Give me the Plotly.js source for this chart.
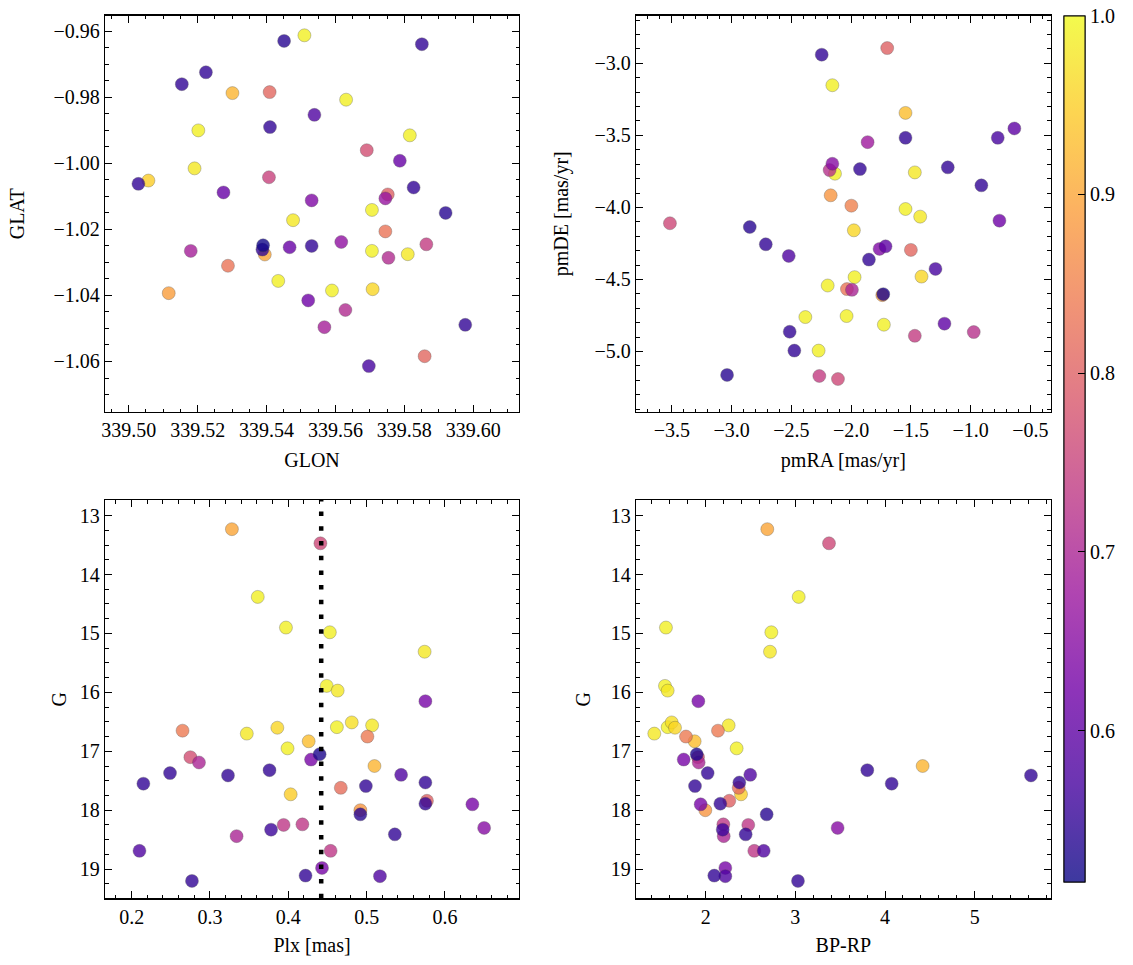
<!DOCTYPE html>
<html><head><meta charset="utf-8">
<script src="https://cdn.plot.ly/plotly-3.0.1.min.js"></script>
<style>html,body{margin:0;padding:0;background:#fff}</style>
</head><body><div id="chart" style="width:1133px;height:965px"></div>
<script>
// ---- Panel 1: sky positions ----
const glon = [339.5451,339.5510,339.5851,339.5224,339.5154,339.5301,339.5409,339.5631,339.5539,339.5202,
  339.5410,339.5816,339.5691,339.5787,339.5191,339.5057,339.5028,339.5407,339.5275,339.5531,
  339.5752,339.5745,339.5827,339.5706,339.5920,339.5477,339.5745,339.5180,339.5390,339.5388,
  339.5395,339.5467,339.5531,339.5617,339.5706,339.5754,339.5810,339.5864,339.5288,339.5116,
  339.5434,339.5590,339.5708,339.5521,339.5629,339.5568,339.5977,339.5859,339.5697];
const glat = [-0.9629,-0.9612,-0.9639,-0.9724,-0.9760,-0.9787,-0.9784,-0.9807,-0.9853,-0.9900,
  -0.9890,-0.9915,-0.9960,-0.9992,-1.0015,-1.0052,-1.0062,-1.0042,-1.0088,-1.0112,
  -1.0094,-1.0106,-1.0073,-1.0141,-1.0150,-1.0172,-1.0206,-1.0265,-1.0248,-1.0261,
  -1.0276,-1.0254,-1.0250,-1.0238,-1.0265,-1.0286,-1.0275,-1.0245,-1.0310,-1.0393,
  -1.0356,-1.0385,-1.0381,-1.0415,-1.0444,-1.0496,-1.0489,-1.0584,-1.0614];
const probPos = [0.54,0.99,0.55,0.55,0.55,0.92,0.81,0.99,0.58,0.99,
  0.55,0.99,0.77,0.61,0.98,0.95,0.55,0.75,0.61,0.64,
  0.80,0.67,0.55,0.99,0.54,0.98,0.83,0.69,0.52,0.55,
  0.90,0.61,0.55,0.66,0.99,0.71,0.98,0.74,0.83,0.89,
  0.99,0.99,0.96,0.62,0.71,0.69,0.55,0.81,0.57];

// ---- Panel 2: proper motions ----
const pmra = [-2.246,-1.698,-2.157,-1.545,-1.545,-0.773,-0.634,-1.862,-2.157,-2.180,
  -2.135,-1.926,-1.467,-1.191,-0.910,-2.171,-1.998,-1.545,-1.422,-0.759,
  -3.516,-2.848,-2.714,-2.522,-1.977,-1.762,-1.712,-1.500,-1.851,-1.294,
  -2.196,-1.971,-1.411,-2.035,-1.993,-1.739,-1.731,-2.383,-2.038,-1.726,
  -1.219,-0.974,-1.467,-2.514,-2.475,-2.272,-3.038,-2.266,-2.110];
const pmde = [-2.940,-2.894,-3.152,-3.344,-3.517,-3.517,-3.452,-3.547,-3.697,-3.741,
  -3.766,-3.734,-3.757,-3.722,-3.847,-3.916,-3.988,-4.011,-4.064,-4.092,
  -4.110,-4.136,-4.256,-4.337,-4.159,-4.288,-4.270,-4.295,-4.362,-4.427,
  -4.542,-4.484,-4.480,-4.567,-4.572,-4.609,-4.602,-4.761,-4.754,-4.814,
  -4.807,-4.865,-4.891,-4.863,-4.994,-4.994,-5.163,-5.170,-5.191];
const probPm = [0.55,0.80,0.99,0.93,0.55,0.57,0.60,0.68,0.65,0.72,
  0.99,0.55,0.98,0.55,0.55,0.88,0.85,0.99,0.98,0.62,
  0.76,0.54,0.55,0.58,0.96,0.64,0.60,0.81,0.55,0.57,
  0.99,0.99,0.96,0.83,0.70,0.89,0.53,0.99,0.99,0.99,
  0.60,0.72,0.74,0.55,0.55,0.99,0.54,0.74,0.76];

// ---- Panels 3 & 4: photometry ----
const gmag = [13.23,13.47,14.38,14.90,14.98,15.31,15.89,15.97,16.15,16.65,
  16.70,16.60,16.59,16.51,16.56,16.75,16.83,16.95,17.05,17.14,
  17.10,17.19,17.25,17.37,17.41,17.32,17.40,17.55,17.53,17.62,
  17.59,17.73,17.84,17.89,17.90,18.00,18.07,18.25,18.24,18.33,
  18.44,18.41,18.30,18.69,18.69,18.98,19.11,19.12,19.20];
const plx = [0.328,0.441,0.361,0.397,0.453,0.574,0.449,0.463,0.575,0.265,
  0.347,0.386,0.462,0.481,0.507,0.501,0.426,0.399,0.440,0.429,
  0.275,0.286,0.510,0.249,0.323,0.376,0.544,0.215,0.575,0.467,
  0.499,0.403,0.577,0.575,0.635,0.492,0.492,0.394,0.418,0.378,
  0.334,0.536,0.650,0.210,0.454,0.443,0.422,0.517,0.277];
const bprp = [2.687,3.375,3.037,1.557,2.732,2.717,1.546,1.576,1.918,2.137,
  1.427,1.658,1.576,1.621,2.256,1.780,1.877,2.345,1.900,1.755,
  1.914,1.922,4.419,2.022,5.627,3.802,2.497,4.074,2.375,2.368,
  1.881,2.394,2.263,2.163,1.944,1.996,2.680,2.475,2.197,2.190,
  2.201,2.446,3.471,2.647,2.542,2.219,2.096,2.219,3.029];
const probPhot = [0.90,0.76,0.99,0.99,0.99,0.98,0.99,0.98,0.63,0.84,
  0.98,0.96,0.99,0.97,0.98,0.84,0.93,0.99,0.53,0.63,
  0.77,0.70,0.92,0.55,0.55,0.55,0.58,0.55,0.55,0.82,
  0.55,0.95,0.80,0.55,0.63,0.88,0.54,0.73,0.73,0.56,
  0.70,0.55,0.65,0.58,0.73,0.63,0.55,0.58,0.55];

const plxMean = 0.442;
const probMin = 0.5155, probMax = 1.0;
const cbMajor = [0.6, 0.7, 0.8, 0.9, 1.0];
const cbMinor = [0.52,0.54,0.56,0.58,0.60,0.62,0.64,0.66,0.68,0.70,0.72,0.74,0.76,0.78,0.80,
  0.82,0.84,0.86,0.88,0.90,0.92,0.94,0.96,0.98,1.00];

// plasma colormap
const plasma = [[0,'#0d0887'],[0.1111,'#46039f'],[0.2222,'#7201a8'],[0.3333,'#9c179e'],
  [0.4444,'#bd3786'],[0.5556,'#d8576b'],[0.6667,'#ed7953'],[0.7778,'#fb9f3a'],
  [0.8889,'#fdca26'],[1,'#f0f921']];
const alpha = 0.8;
function fade(hex){
  const r=parseInt(hex.slice(1,3),16), g=parseInt(hex.slice(3,5),16), b=parseInt(hex.slice(5,7),16);
  const f=v=>Math.round(alpha*v+(1-alpha)*255);
  return 'rgb('+f(r)+','+f(g)+','+f(b)+')';
}
const plasmaFaded = plasma.map(s=>[s[0], fade(s[1])]);

const FONT = 'Liberation Serif, serif';
const FS = 20;

function sorted(xs, ys, ps){
  const idx = ps.map((p,i)=>i).sort((a,b)=>ps[b]-ps[a]);
  return {x: idx.map(i=>xs[i]), y: idx.map(i=>ys[i]), p: idx.map(i=>ps[i])};
}
function scat(xs, ys, ps, xa, ya){
  const s = sorted(xs, ys, ps);
  return {type:'scatter', mode:'markers', x:s.x, y:s.y, xaxis:xa, yaxis:ya,
    hoverinfo:'skip', showlegend:false,
    marker:{size:13, color:s.p, cmin:probMin, cmax:probMax, colorscale:plasma,
      opacity:alpha, showscale:false, line:{width:0.5, color:'rgba(60,60,60,0.7)'}}};
}
function cbTrace(vals, len, labels){
  return {type:'scatter', mode:'markers', x:[null], y:[null], xaxis:'x', yaxis:'y',
    hoverinfo:'skip', showlegend:false,
    marker:{color:[probMin, probMax], cmin:probMin, cmax:probMax, colorscale:plasmaFaded,
      showscale:true, size:1,
      colorbar:{x:1064.3/1133, xanchor:'left', y:1-15.7/965, yanchor:'top',
        len:866/965, lenmode:'fraction', thickness:21, thicknessmode:'pixels',
        xpad:0, ypad:0, outlinewidth:1, outlinecolor:'black',
        ticks:'inside', ticklen:len, tickwidth:1, tickcolor:'black',
        tickmode:'array', tickvals:vals, ticktext: vals.map(v=>v.toFixed(1)),
        showticklabels:labels, tickfont:{family:FONT, size:FS, color:'black'}}}};
}

const traces = [
  scat(glon, glat, probPos, 'x', 'y'),
  scat(pmra, pmde, probPm, 'x2', 'y2'),
  scat(plx, gmag, probPhot, 'x3', 'y3'),
  scat(bprp, gmag, probPhot, 'x4', 'y4'),
  cbTrace(cbMinor, 4, false),
  cbTrace(cbMajor, 7, true)
];

function minorT(d){ return {ticks:'inside', ticklen:3.5, tickwidth:1, tickcolor:'black', dtick:d, showgrid:false}; }
function ax(extra){
  return Object.assign({
    showline:true, linewidth:1.2, linecolor:'black', mirror:'allticks',
    ticks:'inside', ticklen:7, tickwidth:1, tickcolor:'black',
    showgrid:false, zeroline:false, automargin:false,
    tickfont:{family:FONT, size:FS, color:'black'}
  }, extra);
}
const tfont = {family:FONT, size:FS, color:'black'};
function ttl(t, s){ return {text:t, font:tfont, standoff:s}; }
const dx1 = [105/1133, 519/1133], dx2 = [636/1133, 1050.7/1133];
const dyT = [1-412/965, 1-15.5/965], dyB = [1-898.3/965, 1-500/965];

const layout = {
  width:1133, height:965, margin:{l:0,r:0,t:0,b:0},
  paper_bgcolor:'white', plot_bgcolor:'white', showlegend:false,
  font:{family:FONT, size:FS, color:'black'},
  xaxis: ax({domain:dx1, anchor:'y', range:[339.4931,339.6133], dtick:0.02, tick0:339.5, tickformat:'.2f',
    minor:minorT(0.005), title:ttl('GLON', 12)}),
  yaxis: ax({domain:dyT, anchor:'x', range:[-1.0753,-0.9552], dtick:0.02, tick0:-1, tickformat:'.2f',
    minor:minorT(0.005), title:ttl('GLAT', 23)}),
  xaxis2: ax({domain:dx2, anchor:'y2', range:[-3.80,-0.33], dtick:0.5, tick0:0, tickformat:'.1f',
    minor:minorT(0.1), title:ttl('pmRA [mas/yr]', 12)}),
  yaxis2: ax({domain:dyT, anchor:'x2', range:[-5.420,-2.668], dtick:0.5, tick0:0, tickformat:'.1f',
    minor:minorT(0.1), title:ttl('pmDE [mas/yr]', 20)}),
  xaxis3: ax({domain:dx1, anchor:'y3', range:[0.166,0.6945], dtick:0.1, tick0:0, tickformat:'.1f',
    minor:minorT(0.02), title:ttl('Plx [mas]', 11)}),
  yaxis3: ax({domain:dyB, anchor:'x3', range:[19.495,12.735], dtick:1, tick0:0,
    minor:minorT(0.25), title:ttl('G', 7)}),
  xaxis4: ax({domain:dx2, anchor:'y4', range:[1.223,5.847], dtick:1, tick0:0,
    minor:minorT(0.2), title:ttl('BP-RP', 11)}),
  yaxis4: ax({domain:dyB, anchor:'x4', range:[19.495,12.735], dtick:1, tick0:0,
    minor:minorT(0.25), title:ttl('G', 14)}),
  shapes:[{type:'line', xref:'x3', yref:'y3 domain', x0:plxMean, x1:plxMean, y0:0, y1:1,
    line:{color:'black', width:4.5, dash:'4.5px,10.2px'}, layer:'above'}]
};

Plotly.newPlot('chart', traces, layout, {displayModeBar:false, staticPlot:true});
</script>
</body></html>
